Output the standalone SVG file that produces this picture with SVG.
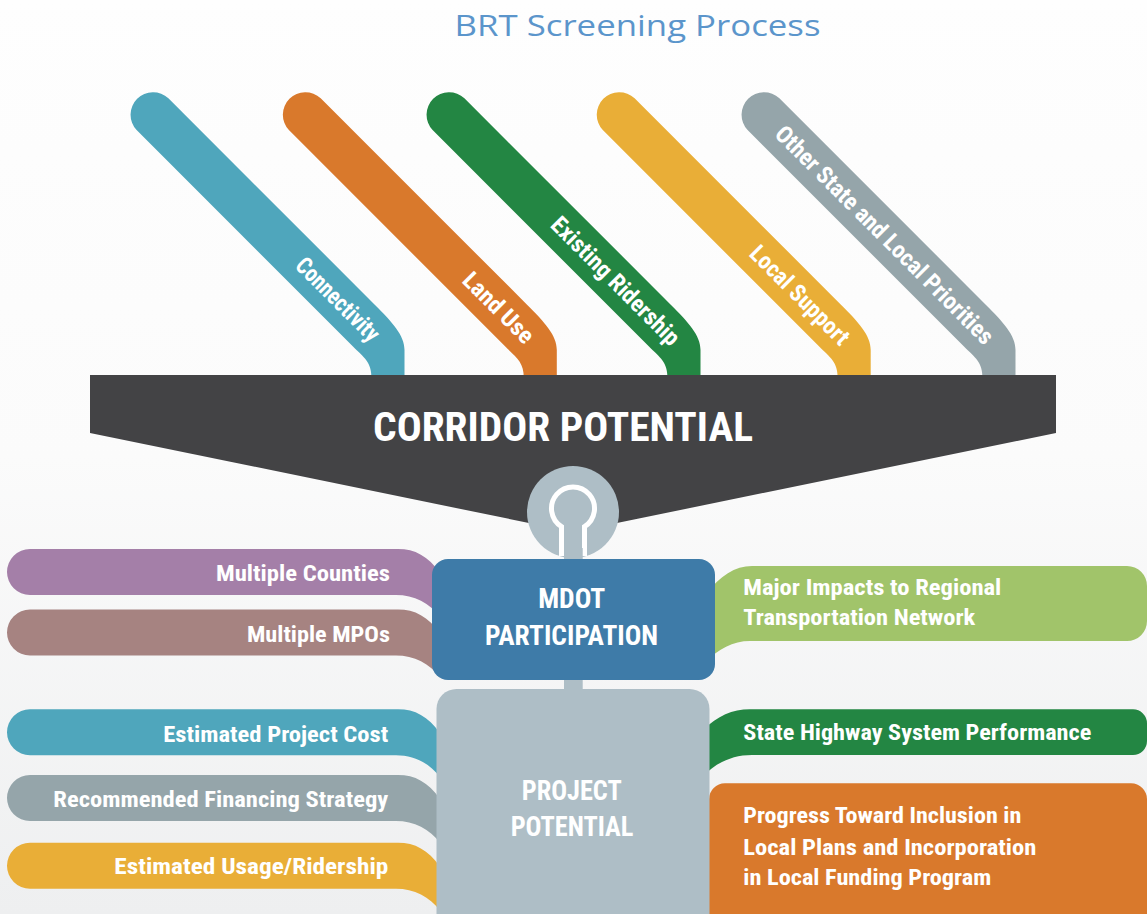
<svg xmlns="http://www.w3.org/2000/svg" xmlns:xlink="http://www.w3.org/1999/xlink" width="1147" height="914" viewBox="0 0 1147 914">
<style>
.lbl{font-family:"Liberation Sans Narrow","Roboto Condensed",Roboto,"Liberation Sans",sans-serif;font-weight:bold;fill:#ffffff;}
.rib{font-size:22.5px;}
.big{font-size:27px;}
.stripe{font-size:24px;}
</style>
<defs>
<linearGradient id="bg" x1="0" y1="0" x2="0" y2="914" gradientUnits="userSpaceOnUse">
<stop offset="0" stop-color="#fefefe"/>
<stop offset="0.5" stop-color="#fbfbfb"/>
<stop offset="1" stop-color="#eeeff0"/>
</linearGradient>
<path id="stripeShape" d="M 15.9 98.3 L 222 304.4 C 240 322.4 252 335 252 350 V 395 H 219 V 378 C 219 362 212 358 200 346 L 188 334 L -15.9 130.1 A 22.5 22.5 0 0 1 15.9 98.3 Z"/>
<path id="leftRib" d="M 30 0 H 398 C 415 0 428 7 440 24 V 68 C 430 54 414 46 396 46 H 30 A 23 23 0 0 1 30 0 Z"/>
</defs>
<rect x="0" y="0" width="1147" height="914" fill="url(#bg)"/>

<g id="title">
<text x="637.5" y="36" font-family="'Open Sans','Liberation Sans',sans-serif" font-size="30" fill="#5b95cb" text-anchor="middle" textLength="366" lengthAdjust="spacingAndGlyphs">BRT Screening Process</text>
</g>

<g id="stripe-connectivity" transform="translate(152.5,0)">
<use xlink:href="#stripeShape" fill="#4fa6bc"/>
<text class="lbl stripe" transform="translate(185.3,299.5) rotate(45)" x="0" y="8" text-anchor="middle" textLength="108" lengthAdjust="spacingAndGlyphs">Connectivity</text>
</g>
<g id="stripe-landuse" transform="translate(304.8,0)">
<use xlink:href="#stripeShape" fill="#d9792c"/>
<text class="lbl stripe" transform="translate(193.7,307.9) rotate(45)" x="0" y="8" text-anchor="middle" textLength="90" lengthAdjust="spacingAndGlyphs">Land Use</text>
</g>
<g id="stripe-ridership" transform="translate(448.5,0)">
<use xlink:href="#stripeShape" fill="#238643"/>
<text class="lbl stripe" transform="translate(166.9,281.1) rotate(45)" x="0" y="8" text-anchor="middle" textLength="171" lengthAdjust="spacingAndGlyphs">Existing Ridership</text>
</g>
<g id="stripe-localsupport" transform="translate(618.7,0)">
<use xlink:href="#stripeShape" fill="#e9ae37"/>
<text class="lbl stripe" transform="translate(181,295.2) rotate(45)" x="0" y="8" text-anchor="middle" textLength="130" lengthAdjust="spacingAndGlyphs">Local Support</text>
</g>
<g id="stripe-other" transform="translate(763.5,0)">
<use xlink:href="#stripeShape" fill="#95a5aa"/>
<text class="lbl stripe" transform="translate(120.9,235.1) rotate(45)" x="0" y="8" text-anchor="middle" textLength="298" lengthAdjust="spacingAndGlyphs">Other State and Local Priorities</text>
</g>

<g id="corridor-potential">
<path d="M 90 375 H 1056 V 433 L 573 532 L 90 433 Z" fill="#434345"/>
<text class="lbl" x="563" y="441" font-size="41" text-anchor="middle" textLength="380" lengthAdjust="spacingAndGlyphs">CORRIDOR POTENTIAL</text>
</g>

<g id="tab-multiple-counties" transform="translate(0,549)">
<use xlink:href="#leftRib" fill="#a47fa8"/>
<text class="lbl rib" x="390" y="31.7" text-anchor="end" textLength="174" lengthAdjust="spacingAndGlyphs">Multiple Counties</text>
</g>
<g id="tab-multiple-mpos" transform="translate(0,609.5)">
<use xlink:href="#leftRib" fill="#a68381"/>
<text class="lbl rib" x="390" y="32.2" text-anchor="end" textLength="143" lengthAdjust="spacingAndGlyphs">Multiple MPOs</text>
</g>
<g id="tab-project-cost" transform="translate(0,709.3)">
<use xlink:href="#leftRib" fill="#4fa6bc"/>
<text class="lbl rib" x="388.3" y="33" text-anchor="end" textLength="225" lengthAdjust="spacingAndGlyphs">Estimated Project Cost</text>
</g>
<g id="tab-financing" transform="translate(0,775)">
<use xlink:href="#leftRib" fill="#95a5aa"/>
<text class="lbl rib" x="388.3" y="32.3" text-anchor="end" textLength="335" lengthAdjust="spacingAndGlyphs">Recommended Financing Strategy</text>
</g>
<g id="tab-usage" transform="translate(0,842.7)">
<use xlink:href="#leftRib" fill="#e9ae37"/>
<text class="lbl rib" x="388.3" y="31.3" text-anchor="end" textLength="274" lengthAdjust="spacingAndGlyphs">Estimated Usage/Ridership</text>
</g>

<g id="tab-major-impacts">
<path d="M 1127 566 H 752 C 735 566 720 576 706 594 V 662 C 718 649 733 641 750 641 H 1127 A 20 20 0 0 0 1147 621 V 586 A 20 20 0 0 0 1127 566 Z" fill="#a1c46a"/>
<text class="lbl rib" x="743.3" y="595" textLength="258" lengthAdjust="spacingAndGlyphs">Major Impacts to Regional</text>
<text class="lbl rib" x="743.3" y="625" textLength="232" lengthAdjust="spacingAndGlyphs">Transportation Network</text>
</g>
<g id="tab-state-highway">
<path d="M 1133 709.3 H 750 C 732 709.3 718 716 703 730 V 776 C 716 763 732 755 752 755 H 1133 A 14 14 0 0 0 1147 741 V 723.3 A 14 14 0 0 0 1133 709.3 Z" fill="#238643"/>
<text class="lbl rib" x="743.3" y="740" textLength="348" lengthAdjust="spacingAndGlyphs">State Highway System Performance</text>
</g>
<g id="tab-progress">
<rect x="709" y="783.3" width="438" height="160" rx="16" fill="#d9792c"/>
<text class="lbl rib" x="743.3" y="823.3" textLength="278" lengthAdjust="spacingAndGlyphs">Progress Toward Inclusion in</text>
<text class="lbl rib" x="743.3" y="855" textLength="293" lengthAdjust="spacingAndGlyphs">Local Plans and Incorporation</text>
<text class="lbl rib" x="743.3" y="885" textLength="248" lengthAdjust="spacingAndGlyphs">in Local Funding Program</text>
</g>

<g id="connectors">
<circle cx="573" cy="512" r="46" fill="#aebec6"/>
<path d="M 561.5 556 V 526.7 A 21.5 21.5 0 1 1 584.5 526.7 V 556" fill="#aebec6" stroke="#ffffff" stroke-width="5"/>
<rect x="564" y="548" width="18.7" height="16" fill="#aebec6"/>
<rect x="564" y="675" width="18.7" height="20" fill="#aebec6"/>
</g>

<g id="mdot-participation">
<rect x="432" y="559" width="283" height="121" rx="16" fill="#3e7ba8"/>
<text class="lbl big" x="571.7" y="608" text-anchor="middle" textLength="67" lengthAdjust="spacingAndGlyphs">MDOT</text>
<text class="lbl big" x="571.5" y="645" text-anchor="middle" textLength="173" lengthAdjust="spacingAndGlyphs">PARTICIPATION</text>
</g>

<g id="project-potential">
<rect x="436.5" y="689" width="273" height="250" rx="20" fill="#aebec6"/>
<text class="lbl big" x="571.7" y="800" text-anchor="middle" textLength="100" lengthAdjust="spacingAndGlyphs">PROJECT</text>
<text class="lbl big" x="572" y="835.7" text-anchor="middle" textLength="122.7" lengthAdjust="spacingAndGlyphs">POTENTIAL</text>
</g>
</svg>
